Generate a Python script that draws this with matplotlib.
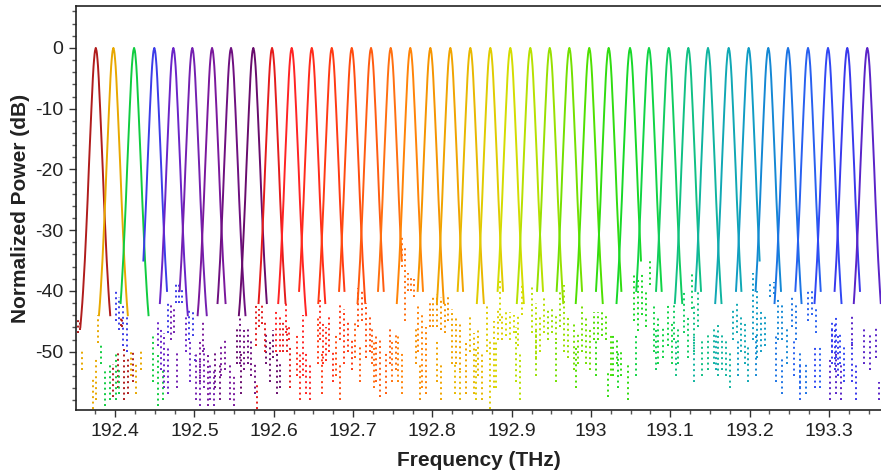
import numpy as np
import matplotlib
matplotlib.use("Agg")
import matplotlib.pyplot as plt
from matplotlib.ticker import MultipleLocator, FuncFormatter

plt.rcParams['font.family'] = ['Liberation Sans', 'DejaVu Sans']
plt.rcParams['axes.unicode_minus'] = False

# channel peak frequencies (THz)
centers = [192.3757, 192.3979, 192.4240, 192.4495, 192.4735, 192.4974, 192.5223, 192.5462, 192.5743, 192.5979,
           192.6227, 192.6480, 192.6732, 192.6984, 192.7227, 192.7475, 192.7722, 192.7975, 192.8227, 192.8479,
           192.8731, 192.8983, 192.9235, 192.9480, 192.9727, 192.9978, 193.0223, 193.0492, 193.0731, 193.0980,
           193.1227, 193.1475, 193.1736, 193.1988, 193.2235, 193.2484, 193.2736, 193.2988, 193.3231, 193.3483]

colors = ['#b01c1c', '#e8a800', '#10cc40', '#3c3ce8', '#6a24c8', '#7420b0', '#7a189c', '#6e1080', '#680c6c', '#e41c1c',
          '#ff2424', '#ff2c1c', '#ff3a14', '#ff4c10', '#ff5c10', '#ff7010', '#ff8408', '#f59400', '#f0a400', '#e8b800',
          '#e0cc00', '#d4dc00', '#b8e000', '#98e000', '#74e000', '#50e000', '#30dc10', '#18d828', '#10d444', '#10cc60',
          '#10c084', '#10b4a0', '#10a8b4', '#109cc4', '#1488d4', '#1c74e4', '#2860f0', '#3048f4', '#3a38ec', '#5a24c8']

# filter shape: half width (GHz) at each level (dB), read from the first channel
profile_db = [0, -0.5, -1, -2, -3, -5, -7, -10, -13, -16, -20, -25, -30, -35, -40, -42, -44, -46]
profile_hw = [0, 1.0, 1.5, 2.2, 2.8, 3.7, 4.4, 5.5, 6.5, 7.5, 8.8, 10.3, 12.0, 13.8, 16.0, 17.0, 18.2, 19.5]

# where each trace stops being a solid line (dB)
left_end = [-46, -44, -42, -35, -42, -40, -44, -42, -44, -42,
            -42, -40, -42, -40, -42, -40, -42, -40, -42, -40,
            -42, -40, -42, -40, -40, -42, -40, -42, -40, -40,
            -42, -40, -42, -40, -40, -42, -40, -42, -40, -42]
right_end = [-44, -44, -44, -40, -44, -44, -42, -44, -42, -42,
             -44, -42, -40, -42, -40, -35, -40, -42, -40, -42,
             -40, -42, -40, -42, -40, -42, -40, -35, -40, -42,
             -40, -42, -40, -35, -40, -42, -40, -42, -40, -42]

# noise streaks below the skirts: frequency (THz), top and bottom (dB)
noise_freq = [
    [192.3533, 192.3558, 192.3974, 192.4038, 192.4075, 192.4088, 192.4113, 192.4164, 192.4227],
    [192.3584, 192.3722, 192.3760, 192.3785, 192.4201, 192.4264, 192.4327],
    [192.3823, 192.3874, 192.3937, 192.4012, 192.4050, 192.4479, 192.4542, 192.4605],
    [192.4012, 192.4050, 192.4101, 192.4151, 192.4668, 192.4769, 192.4807, 192.4844, 192.4933, 192.4983, 192.5008],
    [192.4542, 192.4580, 192.4617, 192.4668, 192.4895, 192.4945],
    [192.4706, 192.4743, 192.4781, 192.5021, 192.5071, 192.5122, 192.5197, 192.5248],
    [192.5071, 192.5109, 192.5172, 192.5336, 192.5386, 192.5449, 192.5500],
    [192.5260, 192.5323, 192.5575, 192.5626, 192.5676, 192.5714, 192.5765],
    [192.5538, 192.5588, 192.5903, 192.5954, 192.5991, 192.6042, 192.6080],
    [192.5777, 192.5815, 192.5853, 192.5891, 192.5790, 192.6117, 192.6168, 192.6206],
    [192.6029, 192.6080, 192.6155, 192.6193, 192.6370, 192.6407, 192.6458],
    [192.6294, 192.6332, 192.6584, 192.6622, 192.6660, 192.6697, 192.6748],
    [192.6559, 192.6609, 192.6836, 192.6886, 192.6937, 192.6987],
    [192.6786, 192.6836, 192.7063, 192.7113, 192.7164, 192.7214],
    [192.7025, 192.7088, 192.7239, 192.7290, 192.7340, 192.7416, 192.7466],
    [192.7265, 192.7492, 192.7542, 192.7618, 192.7655, 192.7693, 192.7731, 192.7769],
    [192.7567, 192.7618, 192.7819, 192.7870, 192.7920, 192.7971],
    [192.7794, 192.7845, 192.8008, 192.8059, 192.8109, 192.8160, 192.8197],
    [192.8059, 192.8109, 192.8248, 192.8298, 192.8349, 192.8424],
    [192.8286, 192.8349, 192.8475, 192.8525, 192.8576, 192.8626],
    [192.8550, 192.8689, 192.8727, 192.8777, 192.8828, 192.8878],
    [192.8803, 192.8853, 192.8929, 192.8979, 192.9029, 192.9080, 192.9130],
    [192.9055, 192.9105, 192.9256, 192.9307, 192.9357, 192.9408],
    [192.9307, 192.9458, 192.9509, 192.9559, 192.9609, 192.9660, 192.9710],
    [192.9559, 192.9786, 192.9836, 192.9887, 192.9937, 192.9988],
    [192.9811, 193.0038, 193.0088, 193.0139, 193.0189, 193.0252],
    [193.0063, 193.0214, 193.0278, 193.0328, 193.0378, 193.0467],
    [193.0341, 193.0542, 193.0593, 193.0643, 193.0694, 193.0744],
    [193.0567, 193.0794, 193.0845, 193.0908, 193.0971, 193.1021],
    [193.0820, 193.1046, 193.1097, 193.1173, 193.1223, 193.1273],
    [193.1072, 193.1299, 193.1349, 193.1399, 193.1475],
    [193.1299, 193.1551, 193.1601, 193.1652, 193.1702, 193.1752],
    [193.1576, 193.1790, 193.1841, 193.1891, 193.1941, 193.1979],
    [193.1853, 193.2042, 193.2093, 193.2143, 193.2194],
    [193.2080, 193.2257, 193.2307, 193.2357, 193.2408, 193.2471],
    [193.2332, 193.2408, 193.2534, 193.2584, 193.2635, 193.2710],
    [193.2559, 193.2635, 193.2736, 193.2786, 193.2836, 193.2887],
    [193.2824, 193.3038, 193.3089, 193.3139, 193.3189],
    [193.3038, 193.3076, 193.3114, 193.3290, 193.3341],
    [193.3013, 193.3089, 193.3152, 193.3290, 193.3442, 193.3517, 193.3593, 193.3631],
]
noise_top = [
    [-44.5, -45, -52, -50, -44.3, -44.5, -49, -51, -50],
    [-49.5, -54.5, -51, -44, -50, -52, -49.5],
    [-48.5, -53, -52, -50, -53, -47, -50, -53],
    [-40, -41, -42, -44, -42, -38.5, -38.5, -39.5, -43, -43, -50.5],
    [-45, -46, -47, -49, -44, -48],
    [-42, -43, -50, -50, -51, -49, -52, -53],
    [-48, -45, -50, -49, -48, -52, -54],
    [-50, -52, -44, -46, -46, -48, -52],
    [-46, -50, -47, -48, -46.5, -50, -52],
    [-42, -43, -42, -45, -55, -45, -46, -49],
    [-43, -44, -42, -45.5, -44, -50, -52],
    [-47, -50, -41, -45, -46, -44, -50],
    [-44, -50, -42, -43, -45, -48],
    [-47, -52, -39.5, -40, -42, -44],
    [-45, -49, -46, -47, -48, -50, -46],
    [-48, -48, -47, -31, -33, -37, -37.5, -38],
    [-47, -50, -42, -44, -46, -42],
    [-46, -52, -41, -40.5, -41, -42, -41],
    [-48, -52, -43, -44, -45, -48],
    [-52, -53, -44, -47, -46, -50],
    [-49, -42.5, -48, -45, -43, -44],
    [-48, -38, -43, -43.5, -44, -44, -39],
    [-46, -50, -39, -42, -44, -41],
    [-46, -43, -43, -44, -40, -39, -44],
    [-48, -45, -47, -42, -44, -46],
    [-49, -43.5, -43.5, -43, -44, -47],
    [-48, -53, -47, -48, -50, -52],
    [-50, -37, -38, -37, -40, -35],
    [-47, -42, -44, -46, -42, -45],
    [-46, -42, -46, -40, -44, -37],
    [-48, -42, -40, -48, -47],
    [-47, -46, -45.5, -47, -48, -50],
    [-47, -43, -42, -44, -45, -49],
    [-48, -37, -40, -43, -44],
    [-47, -38.5, -38.5, -41, -42, -46],
    [-47, -51, -41, -42, -50, -52],
    [-48, -52, -40, -40, -43, -49],
    [-49, -45, -44, -47, -49],
    [-46, -45, -47, -48, -52],
    [-51, -50, -52, -44, -46, -47, -46, -55],
]
noise_bottom = [
    [-47, -46.5, -57.5, -56, -45.8, -46, -58, -57, -55],
    [-53, -59.5, -58, -48.5, -54, -57, -53],
    [-52, -59, -58, -58, -57, -55, -59, -58],
    [-45, -46.5, -49, -50, -47, -42, -42, -42, -48, -47.5, -51.5],
    [-49, -53, -56, -57, -50, -55],
    [-48, -47, -56, -58, -59, -56, -58, -59],
    [-55, -50, -59, -54, -53, -58, -59],
    [-56, -58, -52, -53, -52, -54, -57],
    [-52, -57, -52, -55, -51, -57, -56],
    [-49, -46, -45.5, -50, -59.5, -50, -50, -56],
    [-50, -50, -47, -48, -54, -57, -58],
    [-54, -58, -48, -52, -51.5, -50, -55],
    [-52, -57, -48, -52, -50, -53],
    [-54, -58, -46, -45, -51, -50],
    [-51, -55, -52, -55, -57.5, -57, -52],
    [-56, -55, -53, -36, -45, -40, -40, -41],
    [-55, -57, -50, -56, -57, -46],
    [-52, -58, -46, -46, -46.5, -47, -45],
    [-55, -58, -52, -52, -53, -57],
    [-57, -58, -50, -57, -54, -58],
    [-58, -50, -59.5, -56, -48, -48],
    [-56, -45, -47.5, -48, -47, -49, -44],
    [-55, -58, -47, -51, -50, -47],
    [-54, -48, -47, -48, -46, -50, -51],
    [-55, -53, -52, -50, -52, -53],
    [-56, -48, -48, -47.5, -48, -54],
    [-54, -57.5, -54, -52, -54, -58],
    [-56, -45, -46.6, -44, -46, -39],
    [-54, -50, -52, -51, -49, -52],
    [-53, -48, -52, -47, -51, -43],
    [-54, -50, -46, -54, -53],
    [-55, -52, -54, -53, -54, -56],
    [-53, -48, -47, -50, -52, -55],
    [-54, -48, -51, -50, -49],
    [-54, -41, -40.5, -48, -48, -52],
    [-55, -57, -46, -48, -56, -57],
    [-54, -58, -45, -44, -47, -56],
    [-56, -50, -51, -52, -55],
    [-52, -53, -54, -55, -58],
    [-58, -57, -58, -49, -52, -53, -51, -58],
]

fig = plt.figure(figsize=(8.81, 4.71), dpi=100)
ax = fig.add_axes([0.0863, 0.1295, 0.9137, 0.8578])

pdb = np.array(profile_db)
phw = np.array(profile_hw) / 1000.0  # GHz -> THz

for i, c in enumerate(centers):
    col = colors[i]
    lmask = pdb >= left_end[i]
    rmask = pdb >= right_end[i]
    xs = np.concatenate([c - phw[lmask][::-1], c + phw[rmask][1:]])
    ys = np.concatenate([pdb[lmask][::-1], pdb[rmask][1:]])
    ax.plot(xs, ys, color=col, lw=1.4, zorder=3)
    ax.vlines(noise_freq[i], noise_bottom[i], noise_top[i], colors=col,
              linestyles=(0, (1, 1.8)), linewidth=1.4, zorder=2)

ax.set_xlim(192.3508, 193.3656)
ax.set_ylim(-59.6, 6.9)

ax.xaxis.set_major_locator(MultipleLocator(0.1))
ax.xaxis.set_minor_locator(MultipleLocator(0.025))
ax.yaxis.set_major_locator(MultipleLocator(10))
ax.yaxis.set_minor_locator(MultipleLocator(2))
ax.xaxis.set_major_formatter(FuncFormatter(lambda v, p: '%g' % round(v, 1)))
ax.yaxis.set_major_formatter(FuncFormatter(lambda v, p: '%d' % round(v)))

ax.tick_params(which='major', direction='out', length=5, width=1, colors='#333333',
               labelsize=14, labelcolor='#222222', pad=4)
ax.tick_params(which='minor', direction='out', length=3, width=1, colors='#555555')
ax.spines['right'].set_visible(False)
for s in ['left', 'bottom', 'top']:
    ax.spines[s].set_color('#222222')
    ax.spines[s].set_linewidth(1.2)

ax.set_xlabel('Frequency (THz)', fontsize=15, fontweight='bold', color='#222222', labelpad=8)
ax.set_ylabel('Normalized Power (dB)', fontsize=15, fontweight='bold', color='#222222', labelpad=4)

fig.savefig('out.png', dpi=100)
